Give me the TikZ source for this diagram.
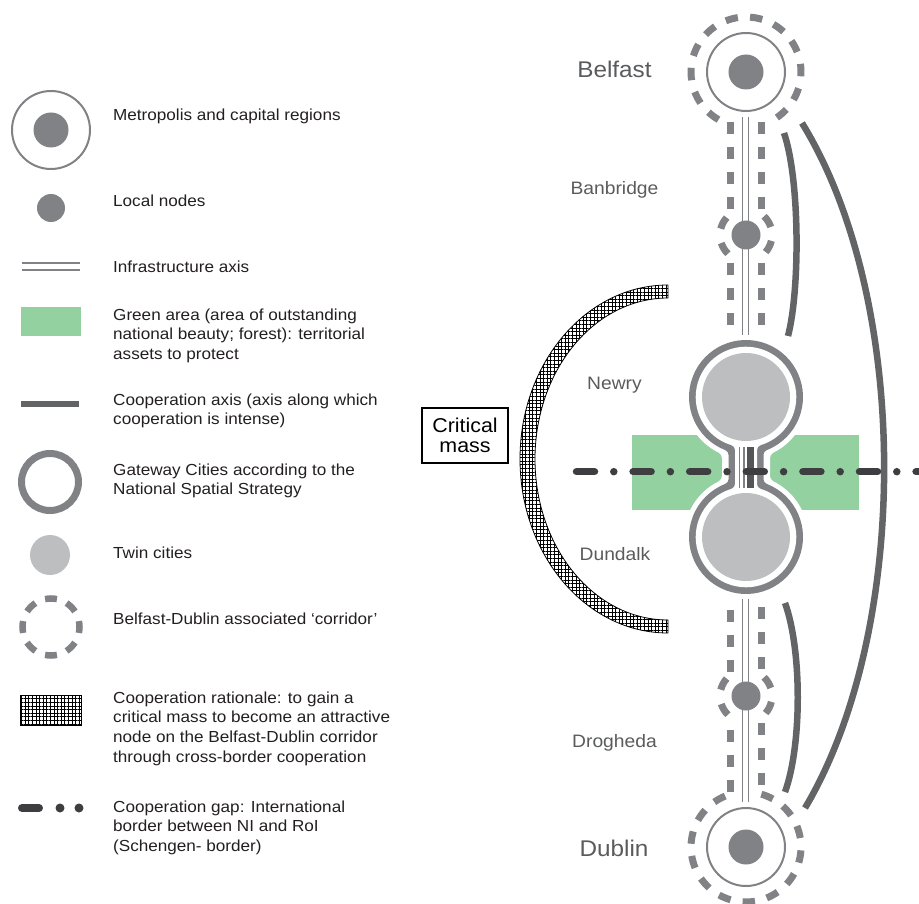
\documentclass[tikz,border=0pt]{standalone}
\usepackage{fontspec}
\setmainfont{Liberation Sans}[FakeStretch=1.07]
\usetikzlibrary{patterns.meta}
\definecolor{ngrey}{HTML}{808285}
\definecolor{cgrey}{HTML}{636466}
\definecolor{tgrey}{HTML}{BCBEC0}
\definecolor{ggreen}{HTML}{93D1A0}
\definecolor{bgrey}{HTML}{3E3E40}
\definecolor{lgrey}{HTML}{5A5B5D}
\definecolor{txt}{HTML}{231F20}
% twin-city outline: R radius, w neck half width, f fillet radius, fill style
\newcommand{\twinshape}[4]{%
  \pgfmathsetmacro{\tA}{sqrt((#1+#3)^2-(#2+#3)^2)}%
  \pgfmathsetmacro{\yc}{70-\tA}%
  \pgfmathsetmacro{\al}{atan2(\tA,#2+#3)}%
  \fill[#4] (#2,-\yc) -- (#2,\yc)
    arc[start angle=180, end angle={180-\al}, radius=#3]
    arc[start angle={-\al}, end angle={180+\al}, radius=#1]
    arc[start angle={\al}, end angle=0, radius=#3]
    -- (-#2,-\yc)
    arc[start angle=0, end angle={-\al}, radius=#3]
    arc[start angle={180-\al}, end angle={360+\al}, radius=#1]
    arc[start angle={180+\al}, end angle=180, radius=#3]
    -- cycle;}
\newcommand{\hatcharc}{(668,633) arc[start angle=90, end angle=270, x radius=148, y radius=174]
  -- (668,298) arc[start angle=270, end angle=90, x radius=133, y radius=161] -- cycle}
\begin{document}
\begin{tikzpicture}[x=1pt,y=-1pt,
  legtext/.style={anchor=north west, inner sep=0pt, align=left, text=txt, font=\fontsize{16}{19.8}\selectfont},
  city/.style={anchor=base, inner sep=0pt, text=lgrey, font=\fontsize{18}{20}\selectfont},
  bigcity/.style={anchor=base, inner sep=0pt, text=lgrey, font=\fontsize{22.7}{24}\selectfont},
  coop/.style={line width=6.5pt, cgrey},
  vdash/.style={line width=7pt, ngrey, dash pattern=on 12pt off 13pt},
  ringdash/.style={line width=7pt, ngrey},
  thinring/.style={fill=white, draw=ngrey, line width=2pt},
  dot/.style={fill=ngrey},
  hatchh/.style={pattern={Lines[angle=0,distance=3.6pt,line width=0.9pt]}, pattern color=black},
  hatchv/.style={pattern={Lines[angle=90,distance=3.6pt,line width=0.9pt]}, pattern color=black},
  hatchedge/.style={draw=black, line width=0.8pt}]
\useasboundingbox (0,0) rectangle (919,904);

% ---------------- critical mass arc and box
\path[hatchh] \hatcharc;
\path[hatchv] \hatcharc;
\path[hatchedge] \hatcharc;
\node[draw=black, line width=1.5pt, minimum width=86pt, minimum height=55pt, inner sep=0pt,
  align=center, font=\fontsize{20}{19.5}\selectfont] (cm) at (465,435.5) {Critical\\mass};

% ---------------- cooperation axes
\draw[coop] (802,123) .. controls (911,300) and (911,630) .. (805,808);
\draw[coop] (784,133) .. controls (800,180) and (800,290) .. (788,336);
\draw[coop] (785,603) .. controls (802,650) and (802,745) .. (785,792);

% ---------------- green area
\fill[ggreen] (632,435) rectangle (859,510);

% ---------------- infrastructure axis
\draw[ngrey, line width=7.3pt] (745.5,117) -- (745.5,802);
\draw[white, line width=4.7pt] (745.5,116) -- (745.5,803);

% ---------------- corridor dashed side lines
\draw[vdash] (730,122) -- (730,210);
\draw[vdash] (761,122) -- (761,210);
\draw[vdash] (730,263) -- (730,345);
\draw[vdash] (761,263) -- (761,345);
\draw[vdash] (730,610) -- (730,676);
\draw[vdash] (761,607) -- (761,670);
\draw[vdash] (730,730) -- (730,793);
\draw[vdash] (761,723) -- (761,786);

% ---------------- Belfast
\path[thinring] (746,72) circle[radius=39];
\fill[dot] (746,72) circle[radius=17.5];
\foreach \a in {-2,23.7,49.4,126.5,152.2,177.9,203.6,229.3,255,280.7,306.4,332.1}
  \draw[ringdash] (746,72) ++({\a-6.5}:55) arc[start angle={\a-6.5}, end angle={\a+6.5}, radius=55];

% ---------------- Banbridge
\fill[dot] (746,235) circle[radius=14.5];
\foreach \a in {-32,27,148,208}
  \draw[ringdash] (746,235) ++({\a-14}:26) arc[start angle={\a-14}, end angle={\a+14}, radius=26];

% ---------------- Drogheda
\fill[dot] (746,696) circle[radius=14.5];
\foreach \a in {-32,27,148,208}
  \draw[ringdash] (746,696) ++({\a-14}:26) arc[start angle={\a-14}, end angle={\a+14}, radius=26];

% ---------------- Dublin
\path[thinring] (746,847) circle[radius=39];
\fill[dot] (746,847) circle[radius=17.5];
\foreach \a in {10,35.7,61.4,87.1,112.8,138.5,164.2,189.9,215.6,241.3,292.7,318.4,344.1}
  \draw[ringdash] (746,847) ++({\a-6.5}:55) arc[start angle={\a-6.5}, end angle={\a+6.5}, radius=55];

% ---------------- twin cities Newry / Dundalk
\begin{scope}[shift={(746,467)}]
  \twinshape{62}{24}{6}{white}
  \twinshape{57}{17.5}{5}{ngrey}
  \twinshape{50.3}{11}{5}{white}
  \fill[tgrey] (0,-70) circle[radius=44];
  \fill[tgrey] (0,70) circle[radius=44];
  \draw[ngrey, line width=6pt] (-4.4,-20) -- (-4.4,21);
  \draw[white, line width=3.4pt] (-4.4,-21) -- (-4.4,22);
  \draw[cgrey!85!black, line width=7.3pt] (4.4,-20) -- (4.4,21);
\end{scope}

% ---------------- border
\draw[bgrey, line width=7.5pt, line cap=round, dash pattern=on 18pt off 19.3pt on 0pt off 19.3pt]
  (576.5,471.7) -- (935,471.7);

% ---------------- city labels
\node[bigcity] (belfast) at (614.5,78) {Belfast};
\node[city] (banbridge) at (614.5,194.5) {Banbridge};
\node[city] (newry) at (614.5,389.5) {Newry};
\node[city] (dundalk) at (615,560.5) {Dundalk};
\node[city] (drogheda) at (614.5,747.5) {Drogheda};
\node[bigcity] (dublin) at (614,856) {Dublin};

% ---------------- legend symbols
\path[thinring] (51,130) circle[radius=39];
\fill[dot] (51,130) circle[radius=17.5];
\fill[dot] (51,208) circle[radius=14];
\draw[ngrey, line width=8.5pt] (22,266.5) -- (80,266.5);
\draw[white, line width=5.5pt] (21,266.5) -- (81,266.5);
\fill[ggreen] (21,307) rectangle (81,336);
\draw[cgrey, line width=6pt] (21,404) -- (79,404);
\draw[ngrey, line width=7pt] (50,482) circle[radius=28.5];
\fill[tgrey] (50,555) circle[radius=20];
\foreach \a in {0,45,90,135,180,225,270,315}
  \draw[ngrey, line width=6.5pt] (51,627) ++({\a-12}:28.5) arc[start angle={\a-12}, end angle={\a+12}, radius=28.5];
\path[hatchh] (20,695) rectangle (81,725);
\path[hatchv] (20,695) rectangle (81,725);
\path[hatchedge] (20,695) rectangle (81,725);
\draw[bgrey, line width=8pt, line cap=round] (22,808) -- (39,808);
\fill[bgrey] (60,808) circle[radius=4.5];
\fill[bgrey] (79,808) circle[radius=4.5];

% ---------------- legend texts
\node[legtext] (l1) at (113,108.3) {Metropolis and capital regions};
\node[legtext] (l2) at (113,194.3) {Local nodes};
\node[legtext] (l3) at (113,260.3) {Infrastructure axis};
\node[legtext] (l4) at (113,308.3) {Green area (area of outstanding\\national beauty; forest): territorial\\assets to protect};
\node[legtext] (l5) at (113,393.3) {Cooperation axis (axis along which\\cooperation is intense)};
\node[legtext] (l6) at (113,463.3) {Gateway Cities according to the\\National Spatial Strategy};
\node[legtext] (l7) at (113,546.3) {Twin cities};
\node[legtext] (l8) at (113,612.3) {Belfast-Dublin associated ‘corridor’};
\node[legtext] (l9) at (113,691.3) {Cooperation rationale: to gain a\\critical mass to become an attractive\\node on the Belfast-Dublin corridor\\through cross-border cooperation};
\node[legtext] (l10) at (113,800.3) {Cooperation gap: International\\border between NI and RoI\\(Schengen- border)};
\end{tikzpicture}
\end{document}
